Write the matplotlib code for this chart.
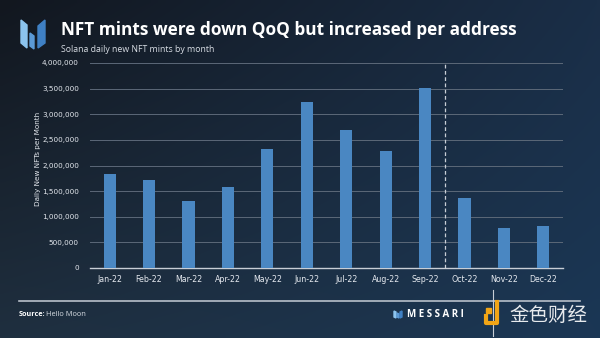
import matplotlib
matplotlib.use("Agg")
import matplotlib.pyplot as plt
from matplotlib.patches import Polygon
from matplotlib.ticker import FuncFormatter
import numpy as np

months = ['Jan-22', 'Feb-22', 'Mar-22', 'Apr-22', 'May-22', 'Jun-22',
          'Jul-22', 'Aug-22', 'Sep-22', 'Oct-22', 'Nov-22', 'Dec-22']
mints = [1835000, 1720000, 1300000, 1575000, 2320000, 3230000,
         2700000, 2290000, 3520000, 1370000, 785000, 825000]
yticks = [0, 500000, 1000000, 1500000, 2000000, 2500000, 3000000, 3500000, 4000000]

title = "NFT mints were down QoQ but increased per address"
subtitle = "Solana daily new NFT mints by month"
ylabel = "Daily New NFTs per Month"

W, H = 600, 338
fig = plt.figure(figsize=(6, 3.38), dpi=100)

# background gradient
bg = fig.add_axes([0, 0, 1, 1], zorder=-10)
tl = np.array([0x12, 0x17, 0x1f]) / 255
tr = np.array([0x1a, 0x2e, 0x47]) / 255
bl = np.array([0x1f, 0x2f, 0x3f]) / 255
br = np.array([0x1b, 0x37, 0x55]) / 255
u = np.linspace(0, 1, 120)[None, :, None]
v = np.linspace(0, 1, 70)[:, None, None]
img = (1 - v) * ((1 - u) * tl + u * tr) + v * ((1 - u) * bl + u * br)
bg.imshow(img, extent=[0, W, H, 0], aspect='auto', interpolation='bilinear')
bg.set_xlim(0, W)
bg.set_ylim(H, 0)
bg.set_axis_off()

# main chart
ax = fig.add_axes([90 / W, 1 - 268 / H, 473 / W, 205 / H])
ax.patch.set_alpha(0)
x = np.arange(len(months))
ax.bar(x, mints, width=0.31, color='#4a87c2', zorder=3)
ax.set_xlim(-0.5, len(months) - 0.5)
ax.set_ylim(0, 4000000)
ax.set_yticks(yticks)
ax.yaxis.set_major_formatter(FuncFormatter(lambda val, p: f"{int(val):,}"))
ax.set_xticks(x)
ax.set_xticklabels(months)
ax.grid(axis='y', color='#5c6878', linewidth=0.7, zorder=0)
for s in ['top', 'right', 'left']:
    ax.spines[s].set_visible(False)
ax.spines['bottom'].set_color('#c8ced6')
ax.spines['bottom'].set_linewidth(1.0)
ax.tick_params(axis='y', length=0, labelsize=5.2, labelcolor='#e4e8ee', pad=8)
ax.tick_params(axis='x', length=0, labelsize=5.7, labelcolor='#e4e8ee', pad=5)
ax.axvline(8.5, color='#c8ced6', linestyle=(0, (3, 2)), linewidth=0.9, zorder=2)
ax.set_ylabel(ylabel, color='#e4e8ee', fontsize=5.2)
ax.yaxis.set_label_coords(-0.104, 0.53)

# overlay for texts and logos (pixel coords)
ov = fig.add_axes([0, 0, 1, 1], zorder=5)
ov.set_xlim(0, W)
ov.set_ylim(H, 0)
ov.set_axis_off()
ov.patch.set_alpha(0)

ov.add_patch(Polygon([(21, 20), (27, 25), (27, 48), (21, 43)], color='#8cc4ee'))
ov.add_patch(Polygon([(30, 33), (34, 36), (34, 49), (30, 46)], color='#5b9ad6'))
ov.add_patch(Polygon([(38, 26), (45, 20), (45, 43), (38, 48)], color='#3f80c4'))

ov.text(61, 30, title, color='white', fontsize=12.4, fontweight='bold',
        family='Open Sans', va='center', ha='left')
ov.text(61, 50, subtitle, color='#d8dde4', fontsize=6.3, family='Open Sans',
        va='center', ha='left')

ov.plot([19, 580], [300.5, 300.5], color='#b8c0ca', linewidth=1.2)
ov.text(19, 314, "Source:", color='white', fontsize=5.2, fontweight='bold',
        family='Open Sans', va='center', ha='left')
ov.text(46.5, 314, "Hello Moon", color='#d8dde4', fontsize=5.4, family='Open Sans',
        va='center', ha='left')

ov.add_patch(Polygon([(394, 311), (396, 312), (396, 318), (394, 317)], color='#8cc4ee'))
ov.add_patch(Polygon([(397, 313), (399, 314), (399, 318), (397, 317)], color='#5b9ad6'))
ov.add_patch(Polygon([(400, 312), (402, 311), (402, 317), (400, 318)], color='#3f80c4'))
ov.text(407, 314.5, "M E S S A R I", color='white', fontsize=7, fontweight='bold',
        family='Open Sans', va='center', ha='left')

# watermark
ov.plot([493, 493], [290, 336], color='#c8ced6', linewidth=0.8)
ov.plot([486, 486, 497, 497], [316, 323, 323, 302], color='#f2a516', linewidth=3)
ov.add_patch(Polygon([(486, 308), (491, 308), (491, 313), (486, 313)], color='#f2a516'))
ov.text(509, 315, "金色财经", color='white', fontsize=14,
        family=['Noto Sans CJK SC', 'DejaVu Sans'], va='center', ha='left', alpha=0.9)

fig.savefig('out.png', dpi=100)
